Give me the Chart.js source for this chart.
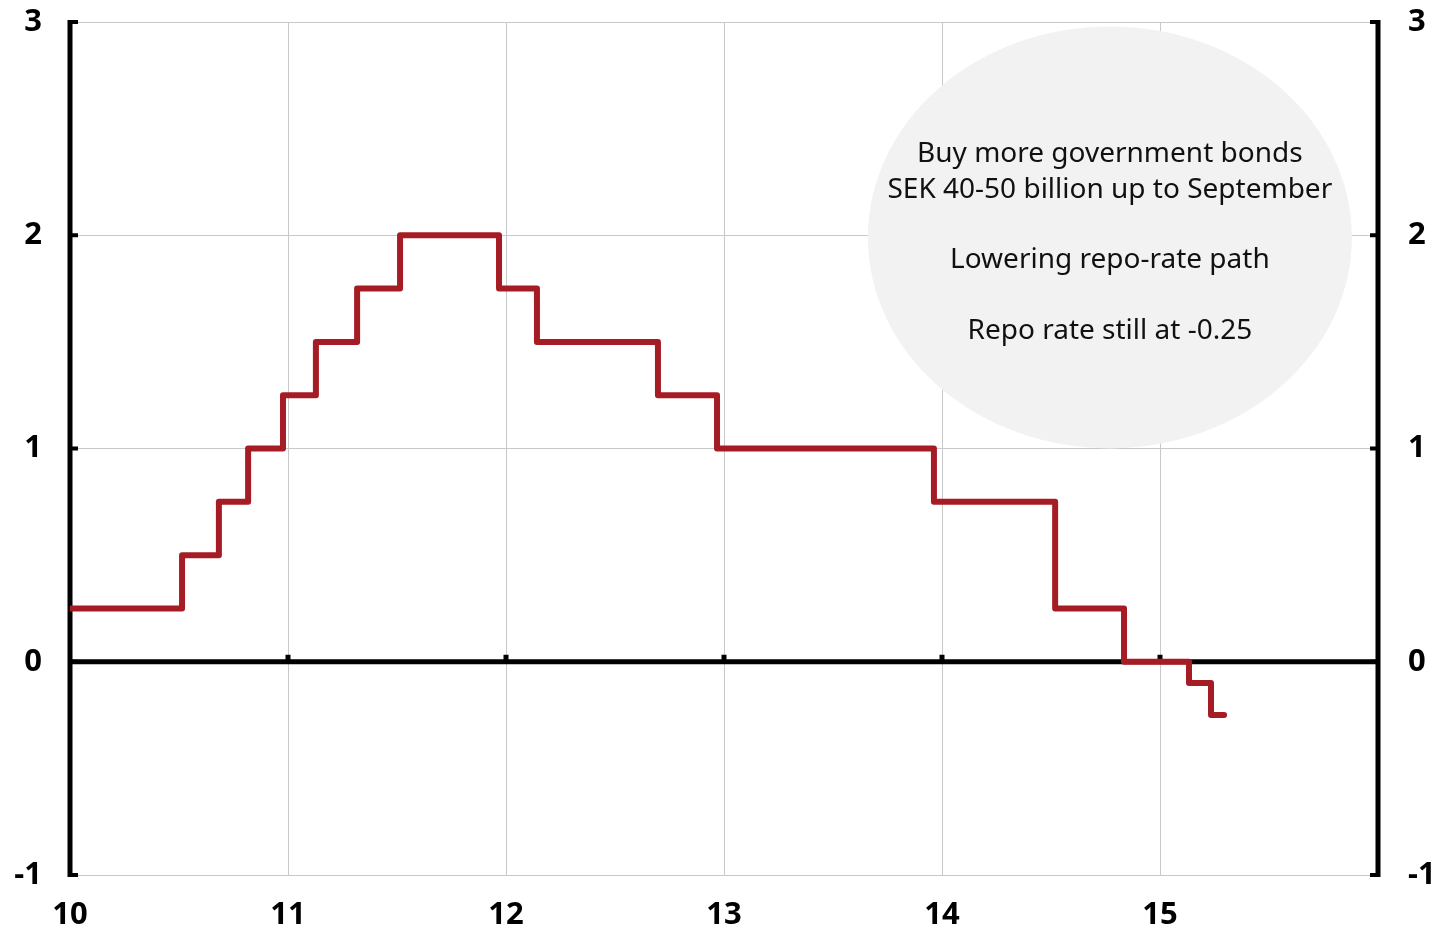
<!DOCTYPE html>
<html>
<head>
<meta charset="utf-8">
<script src="https://cdn.jsdelivr.net/npm/chart.js@4/dist/chart.umd.min.js"></script>
<style>
  html, body { margin: 0; padding: 0; background: #fff; }
  #wrap { width: 1441px; height: 929px; position: relative; }
</style>
</head>
<body>
<div id="wrap"><canvas id="chart"></canvas></div>
<script>
// Repo rate decisions: year of change (10 = 2010) and new level
const changeYears = [10.0, 10.514, 10.683, 10.817, 10.977, 11.128, 11.317, 11.514, 11.968, 12.142,
                     12.697, 12.968, 13.963, 14.519, 14.835, 15.133, 15.234, 15.294];
const rateLevels  = [0.25, 0.5, 0.75, 1.0, 1.25, 1.5, 1.75, 2.0, 1.75, 1.5,
                     1.25, 1.0, 0.75, 0.25, 0, -0.1, -0.25, -0.25];
const yTicks = [-1, 0, 1, 2, 3];
const xTickLabels = ['10', '11', '12', '13', '14', '15'];
const noteLines = ['Buy more government bonds', 'SEK 40-50 billion up to September', '',
                   'Lowering repo-rate path', '', 'Repo rate still at -0.25'];

const points = changeYears.map((x, i) => ({ x: x, y: rateLevels[i] }));
const tickFont = { family: '"Noto Sans", "Open Sans", sans-serif', size: 31, weight: 'bold' };

// grid, axes, inward ticks and the grey note bubble
const decor = {
  id: 'decor',
  beforeDatasetsDraw(chart) {
    const { ctx, chartArea: a, scales: { x, y } } = chart;
    ctx.save();
    // grey ellipse
    const cx = x.getPixelForValue(14.77), cy = y.getPixelForValue(1.99);
    ctx.fillStyle = '#f2f2f2';
    ctx.beginPath();
    ctx.ellipse(cx, cy, 242, 211, 0, 0, Math.PI * 2);
    ctx.fill();
    ctx.fillStyle = '#111';
    ctx.font = '28px "Noto Sans", "Open Sans", sans-serif';
    ctx.textAlign = 'center';
    ctx.textBaseline = 'middle';
    const lineY = [154, 190, 225, 260, 296, 331];
    noteLines.forEach((t, i) => { if (t) ctx.fillText(t, cx, lineY[i]); });

    // axis lines
    ctx.strokeStyle = '#000';
    ctx.lineWidth = 5;
    ctx.beginPath();
    ctx.moveTo(a.left, a.top - 2); ctx.lineTo(a.left, a.bottom + 2);
    ctx.moveTo(a.right, a.top - 2); ctx.lineTo(a.right, a.bottom + 2);
    const y0 = y.getPixelForValue(0);
    ctx.moveTo(a.left, y0); ctx.lineTo(a.right, y0);
    ctx.stroke();
    // inward ticks on both y axes
    ctx.lineWidth = 4;
    ctx.beginPath();
    yTicks.forEach(v => {
      const p = y.getPixelForValue(v);
      ctx.moveTo(a.left, p); ctx.lineTo(a.left + 8, p);
      ctx.moveTo(a.right, p); ctx.lineTo(a.right - 8, p);
    });
    ctx.stroke();
    // small ticks above zero line
    ctx.lineWidth = 5;
    ctx.beginPath();
    for (let v = 11; v <= 15; v++) {
      const p = x.getPixelForValue(v);
      ctx.moveTo(p, y0); ctx.lineTo(p, y0 - 7);
    }
    ctx.stroke();
    ctx.restore();
  }
};

new Chart(document.getElementById('chart'), {
  type: 'line',
  data: {
    datasets: [{
      data: points,
      stepped: 'before',
      borderColor: '#a61c24',
      borderWidth: 6,
      borderCapStyle: 'round',
      borderJoinStyle: 'round',
      pointRadius: 0,
      fill: false
    }]
  },
  options: {
    responsive: true,
    maintainAspectRatio: false,
    animation: false,
    layout: { padding: { top: 22, left: 0, right: 0, bottom: 0 } },
    plugins: { legend: { display: false }, tooltip: { enabled: false } },
    scales: {
      x: {
        type: 'linear',
        min: 10, max: 16,
        afterFit(s) { s.height = 54; s.paddingLeft = 0; s.paddingRight = 0; },
        grid: { color: '#c8c8c8', lineWidth: 1, drawTicks: false },
        border: { display: false },
        ticks: {
          stepSize: 1,
          padding: 22,
          color: '#000',
          font: tickFont,
          callback: v => xTickLabels.includes(String(v)) ? String(v) : ''
        }
      },
      y: {
        position: 'left',
        min: -1, max: 3,
        afterFit(s) { s.width = 70; s.paddingTop = 0; s.paddingBottom = 0; },
        grid: { color: '#c8c8c8', lineWidth: 1, drawTicks: false },
        border: { display: false },
        ticks: {
          stepSize: 1,
          padding: 28,
          color: '#000',
          font: tickFont
        }
      },
      y2: {
        position: 'right',
        min: -1, max: 3,
        afterFit(s) { s.width = 63; s.paddingTop = 0; s.paddingBottom = 0; },
        grid: { display: false, drawTicks: false },
        border: { display: false },
        ticks: {
          stepSize: 1,
          padding: 30,
          color: '#000',
          font: tickFont
        }
      }
    }
  },
  plugins: [decor]
});
</script>
</body>
</html>
